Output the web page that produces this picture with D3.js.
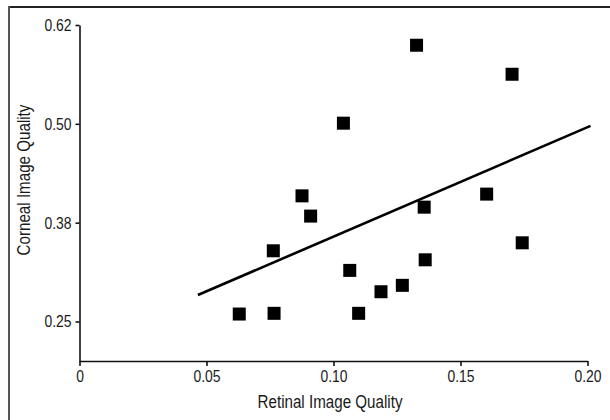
<!DOCTYPE html>
<html><head><meta charset="utf-8">
<script src="https://cdn.jsdelivr.net/npm/d3@7"></script>
<style>
html,body{margin:0;padding:0;background:#fff;}
svg{display:block;}
text{font-family:"Liberation Sans",Arial,sans-serif;fill:#1a1a1a;}
</style></head><body>
<svg id="chart" width="610" height="420"></svg>
<script>
// Retinal vs corneal image quality, one square per eye
const retinal = [0.1327, 0.1703, 0.1039, 0.0876, 0.0910, 0.0763, 0.1357, 0.1603,
                 0.1743, 0.1361, 0.1064, 0.1271, 0.1187, 0.1099, 0.0766, 0.0629];
const corneal = [0.5994, 0.5627, 0.5008, 0.4089, 0.3833, 0.3394, 0.3946, 0.4111,
                 0.3495, 0.3280, 0.3146, 0.2957, 0.2876, 0.2603, 0.2603, 0.2594];

// Least-squares fit line, drawn between its two end points
const fitX = [0.0466, 0.2012];
const fitY = [0.2834, 0.4974];

const xTicks = [0, 0.05, 0.10, 0.15, 0.20];
const xTickLabels = ["0", "0.05", "0.10", "0.15", "0.20"];
const yTicks = [0.25, 0.375, 0.5, 0.625];
const yTickLabels = ["0.25", "0.38", "0.50", "0.62"];

// Narrow lettering: regular sans squeezed horizontally
const narrow = 0.82;

const svg = d3.select("#chart");

// Frame edges (top and left)
svg.append("line").attr("x1", 9).attr("x2", 610).attr("y1", 7).attr("y2", 7)
  .attr("stroke", "#222").attr("stroke-width", 2);
svg.append("line").attr("x1", 9).attr("x2", 9).attr("y1", 6).attr("y2", 420)
  .attr("stroke", "#555").attr("stroke-width", 2);

const x = d3.scaleLinear().domain([0, 0.2]).range([79.5, 587.5]);
const y = d3.scaleLinear().domain([0.2, 0.625]).range([361, 25]);

const xAxis = svg.append("g").attr("transform", "translate(0,361)")
  .call(d3.axisBottom(x).tickValues(xTicks).tickFormat((d, i) => xTickLabels[i])
    .tickSize(5).tickSizeOuter(0).tickPadding(4));
const yAxis = svg.append("g").attr("transform", "translate(79.5,0)")
  .call(d3.axisLeft(y).tickValues(yTicks).tickFormat((d, i) => yTickLabels[i])
    .tickSize(4).tickSizeOuter(0).tickPadding(4));

[xAxis, yAxis].forEach(g => {
  g.attr("font-family", null).attr("font-size", null);
  g.select(".domain").attr("stroke", "#111").attr("stroke-width", 1.6);
  g.selectAll(".tick line").attr("stroke", "#111").attr("stroke-width", 1.6);
  g.selectAll(".tick text").attr("font-size", 17).attr("fill", "#1a1a1a")
    .each(function () {
      const t = d3.select(this);
      const tx = +(t.attr("x") || 0);
      t.attr("x", tx / narrow).attr("transform", `scale(${narrow},1)`);
    });
});

// Fit line
svg.append("line")
  .attr("x1", x(fitX[0])).attr("y1", y(fitY[0]))
  .attr("x2", x(fitX[1])).attr("y2", y(fitY[1]))
  .attr("stroke", "#000").attr("stroke-width", 2.6);

// Data squares
const s = 13;
svg.append("g").selectAll("rect")
  .data(retinal.map((v, i) => [v, corneal[i]]))
  .join("rect")
  .attr("x", d => x(d[0]) - s / 2)
  .attr("y", d => y(d[1]) - s / 2)
  .attr("width", s).attr("height", s)
  .attr("fill", "#000");

// Axis titles
svg.append("text")
  .attr("transform", `translate(330,408) scale(${narrow},1)`)
  .attr("text-anchor", "middle").attr("font-size", 18.5)
  .text("Retinal Image Quality");
svg.append("text")
  .attr("transform", `translate(30,180) rotate(-90) scale(${narrow},1)`)
  .attr("text-anchor", "middle").attr("font-size", 18.5)
  .text("Corneal Image Quality");
</script>
</body></html>
